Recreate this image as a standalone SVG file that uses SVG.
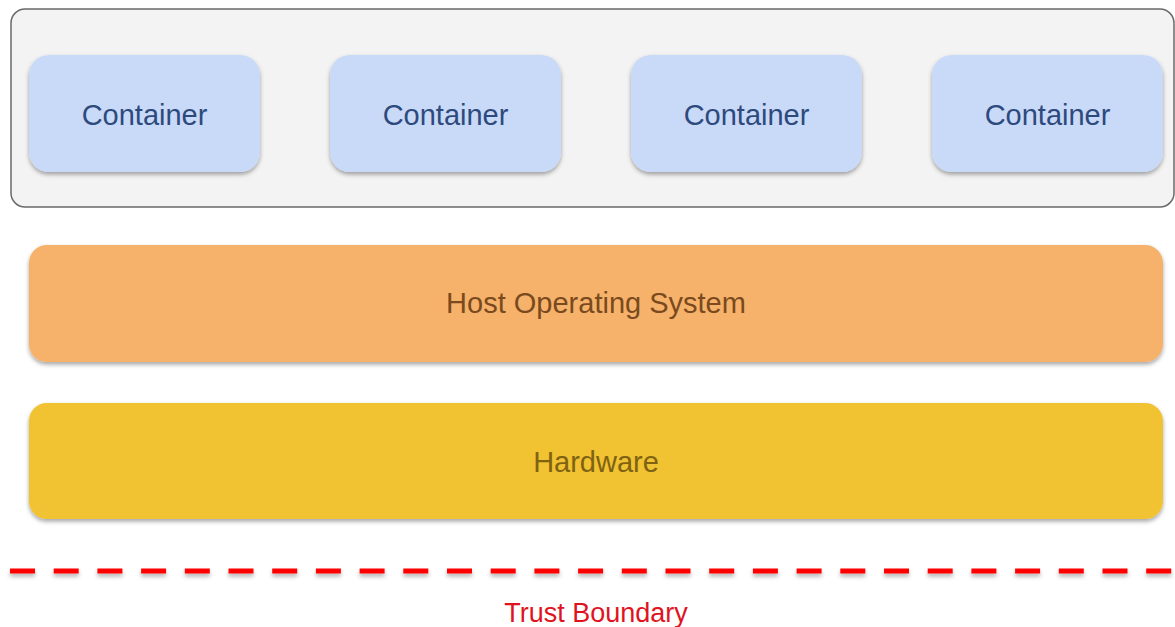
<svg xmlns="http://www.w3.org/2000/svg" width="1175" height="627" viewBox="0 0 1175 627">
  <defs>
    <filter id="shadow" x="-10%" y="-20%" width="120%" height="150%">
      <feDropShadow dx="0" dy="2.5" stdDeviation="2" flood-color="#000" flood-opacity="0.35"/>
    </filter>
    <filter id="lineShadow" filterUnits="userSpaceOnUse" x="0" y="555" width="1175" height="35">
      <feDropShadow dx="0" dy="3" stdDeviation="2" flood-color="#000" flood-opacity="0.3"/>
    </filter>
  </defs>
  <style>
    .label { font-family: "Liberation Sans", Arial, sans-serif; font-size: 29px; text-anchor: middle; }
    .container rect { fill: #c9daf8; filter: url(#shadow); }
    .container text { fill: #2e4a7d; }
  </style>
  <rect width="1175" height="627" fill="#ffffff"/>

  <!-- container runtime area -->
  <g id="runtime">
    <rect x="11" y="9" width="1163" height="198" rx="14" fill="#f3f3f3" stroke="#6a6a6a" stroke-width="1.5"/>
  </g>

  <g id="container1" class="container">
    <rect x="29" y="55" width="231" height="117" rx="20"/>
    <text class="label" x="144.5" y="125">Container</text>
  </g>
  <g id="container2" class="container">
    <rect x="330" y="55" width="231" height="117" rx="20"/>
    <text class="label" x="445.5" y="125">Container</text>
  </g>
  <g id="container3" class="container">
    <rect x="631" y="55" width="231" height="117" rx="20"/>
    <text class="label" x="746.5" y="125">Container</text>
  </g>
  <g id="container4" class="container">
    <rect x="932" y="55" width="231" height="117" rx="20"/>
    <text class="label" x="1047.5" y="125">Container</text>
  </g>

  <g id="host-os">
    <rect x="29" y="245" width="1134" height="117" rx="18" fill="#f6b26b" filter="url(#shadow)"/>
    <text class="label" x="596" y="313" fill="#7a4a1e">Host Operating System</text>
  </g>

  <g id="hardware">
    <rect x="29" y="403" width="1134" height="116" rx="18" fill="#f1c232" filter="url(#shadow)"/>
    <text class="label" x="596" y="472" fill="#7f6312">Hardware</text>
  </g>

  <g id="trust-boundary">
    <line x1="10" y1="571" x2="1175" y2="571" stroke="#ff0000" stroke-width="5" stroke-dasharray="25 18.7" filter="url(#lineShadow)"/>
    <text x="596" y="622" font-family="Liberation Sans, Arial, sans-serif" font-size="27" text-anchor="middle" fill="#e0141e">Trust Boundary</text>
  </g>
</svg>
